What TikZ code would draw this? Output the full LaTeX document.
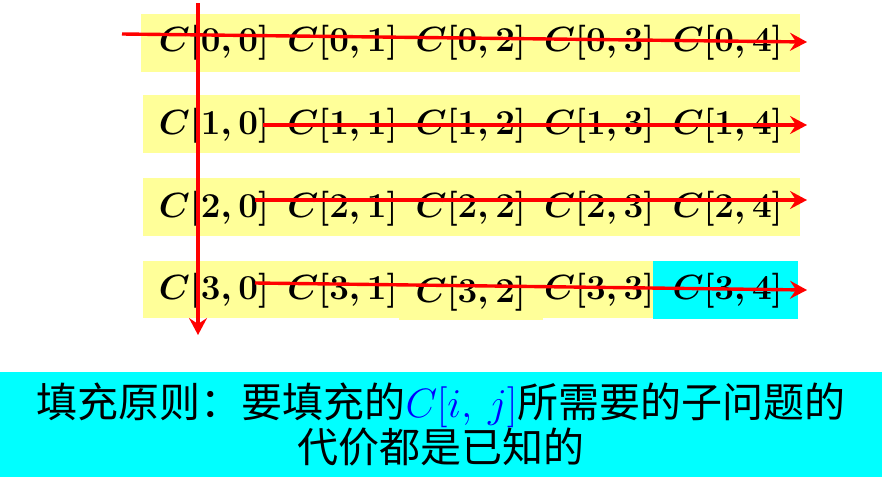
\RequirePackage{fix-cm}
\documentclass[tikz,border=0pt]{standalone}
\usepackage{fontspec}
\usepackage{xcolor}
\usepackage{tikz}
\usetikzlibrary{positioning,arrows.meta}
\newfontfamily\cjk{Noto Sans CJK SC}
\definecolor{bandyellow}{HTML}{FFFF99}
\definecolor{goalcyan}{HTML}{00FFFF}
\definecolor{trace}{HTML}{FF0000}
\definecolor{mathblue}{HTML}{0000FF}
\tikzset{
  cell/.style={inner sep=0pt, minimum width=128pt, minimum height=82.3pt, font=\fontsize{35}{40}\selectfont\boldmath},
  band/.style={fill=bandyellow},
  sweep/.style={draw=trace, line width=3.4pt, -{Stealth[length=17pt,width=18pt,inset=6pt]}},
  rulebox/.style={fill=goalcyan, minimum width=882pt, minimum height=105pt, inner sep=0pt, align=center, font=\cjk\fontsize{41}{45}\selectfont}
}

\begin{document}
\begin{tikzpicture}[x=1pt, y=-1pt]
  \useasboundingbox (0,0) rectangle (882,477);

  % row backgrounds
  \fill[band] (141,14) rectangle (800,72);
  \fill[band] (143,95) rectangle (800,153);
  \fill[band] (143,178) rectangle (800,236);
  \fill[band] (143,261) rectangle (653,318);
  \fill[band] (399,263) rectangle (543,320);
  \fill[goalcyan] (653,261) rectangle (798,319);

  \node[cell] (c00) at (214,43) {$C[0,0]$};
  \node[cell, right=0pt of c00] (c01) {$C[0,1]$};
  \node[cell, right=0pt of c01] (c02) {$C[0,2]$};
  \node[cell, right=0pt of c02] (c03) {$C[0,3]$};
  \node[cell, right=0pt of c03] (c04) {$C[0,4]$};

  \node[cell, below=0pt of c00] (c10) {$C[1,0]$};
  \node[cell, right=0pt of c10] (c11) {$C[1,1]$};
  \node[cell, right=0pt of c11] (c12) {$C[1,2]$};
  \node[cell, right=0pt of c12] (c13) {$C[1,3]$};
  \node[cell, right=0pt of c13] (c14) {$C[1,4]$};

  \node[cell, below=0pt of c10] (c20) {$C[2,0]$};
  \node[cell, right=0pt of c20] (c21) {$C[2,1]$};
  \node[cell, right=0pt of c21] (c22) {$C[2,2]$};
  \node[cell, right=0pt of c22] (c23) {$C[2,3]$};
  \node[cell, right=0pt of c23] (c24) {$C[2,4]$};

  \node[cell, below=0pt of c20] (c30) {$C[3,0]$};
  \node[cell, below=0pt of c21] (c31) {$C[3,1]$};
  \node[cell, below=0pt of c22, yshift=-3pt] (c32) {$C[3,2]$};
  \node[cell, below=0pt of c23] (c33) {$C[3,3]$};
  \node[cell, below=0pt of c24] (c34) {$C[3,4]$};

  % sweep lines
  \coordinate (r0s) at (122,34);
  \coordinate (r0e) at (807,42);
  \coordinate (r1s) at (263,125);
  \coordinate (r1e) at (807,125);
  \coordinate (r2s) at (255,200);
  \coordinate (r2e) at (807,200);
  \coordinate (r3s) at (255,283);
  \coordinate (r3e) at (807,290);
  \coordinate (colS) at (198,3);
  \coordinate (colE) at (198,335);

  \draw[sweep] (r0s) -- (r0e);
  \draw[sweep] (r1s) -- (r1e);
  \draw[sweep] (r2s) -- (r2e);
  \draw[sweep] (r3s) -- (r3e);
  \draw[sweep] (colS) -- (colE);

  \node[rulebox] (rule) at (441,424.5) {填充原则：要填充的{\color{mathblue}$C[i,\ j]$}所需要的子问题的\\代价都是已知的};
\end{tikzpicture}
\end{document}
